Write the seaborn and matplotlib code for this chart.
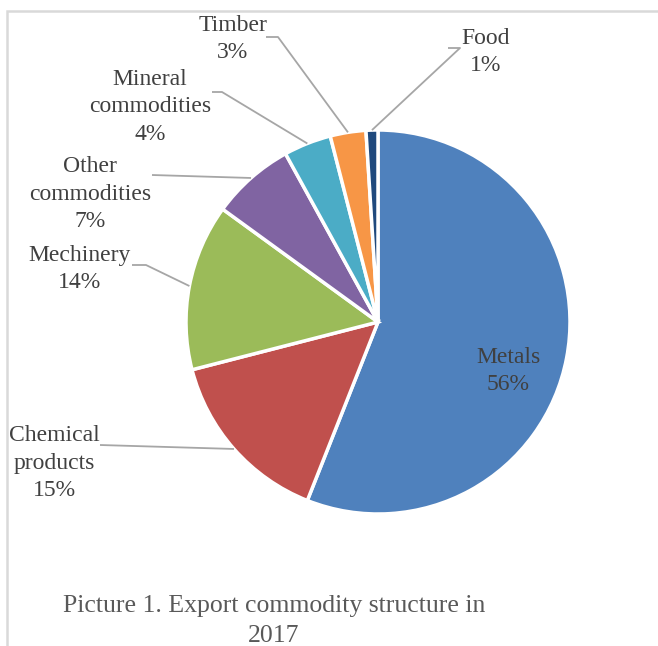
import matplotlib.pyplot as plt
import matplotlib.patches as mpatches
import numpy as np
import seaborn as sns

# %% Data

CATEGORIES = ["Metals", "Chemical\nproducts", "Mechinery", "Other\ncommodities",
              "Mineral\ncommodities", "Timber", "Food"]
SHARES = [56, 15, 14, 7, 4, 3, 1]
COLORS = ["#4F81BD", "#C0504D", "#9BBB59", "#8064A2", "#4BACC6", "#F79646", "#1F497D"]
TITLE = "Picture 1. Export commodity structure in\n2017"

# %% Layout (pixel positions, y measured from top of image)

W, H = 658, 646
CENTER = (378, 322)
RADIUS = 192

# text centre, start of leader (text side), elbow (or None)
LABEL_POS = {
    "Chemical\nproducts": ((54, 463), (100, 445), None),
    "Mechinery": ((80, 269), (132, 265), (146, 265)),
    "Other\ncommodities": ((90, 194), (152, 175), None),
    "Mineral\ncommodities": ((150, 107), (212, 92), (222, 92)),
    "Timber": ((233, 39), (266, 37), (278, 37)),
    "Food": ((486, 52), (448, 48), (460, 48)),
}


def flip(p):
    return (p[0], H - p[1])


# %% Plot

sns.set_style("white")
plt.rcParams["font.family"] = ["Liberation Serif", "DejaVu Serif"]

fig = plt.figure(figsize=(W / 100, H / 100), dpi=100)
ax = fig.add_axes([0, 0, 1, 1])

wedges, _ = ax.pie(
    SHARES,
    colors=COLORS,
    startangle=90,
    counterclock=False,
    center=flip(CENTER),
    radius=RADIUS,
    wedgeprops=dict(edgecolor="white", linewidth=2.5),
)

ax.set_xlim(0, W)
ax.set_ylim(0, H)
ax.set_aspect("equal")
ax.axis("off")

font_size = 17
text_color = "#404040"
line_color = "#a6a6a6"

for wedge, cat, share in zip(wedges, CATEGORIES, SHARES):
    label = f"{cat}\n{share}%"
    mid = np.deg2rad((wedge.theta1 + wedge.theta2) / 2)
    cx, cy = flip(CENTER)
    if cat not in LABEL_POS:
        # label inside the slice
        ax.text(508, H - 371, label, ha="center", va="center",
                fontsize=font_size, color=text_color, linespacing=1.43)
        continue
    txt, start, elbow = LABEL_POS[cat]
    anchor = (cx + RADIUS * np.cos(mid), cy + RADIUS * np.sin(mid))
    pts = [flip(start)]
    if elbow is not None:
        pts.append(flip(elbow))
    pts.append(anchor)
    xs, ys = zip(*pts)
    ax.plot(xs, ys, color=line_color, lw=1.3, solid_capstyle="butt")
    ax.text(*flip(txt), label, ha="center", va="center",
            fontsize=font_size, color=text_color, linespacing=1.43)

# chart frame (cut off at right and bottom)
frame = mpatches.Rectangle((7, -20), W + 20, H - 11 + 20, fill=False,
                           edgecolor="#d9d9d9", lw=1.8)
ax.add_patch(frame)

ax.text(274, H - 621, TITLE, ha="center", va="center", fontsize=18.5,
        color="#595959", linespacing=1.45)

plt.savefig("out.png", dpi=100)
